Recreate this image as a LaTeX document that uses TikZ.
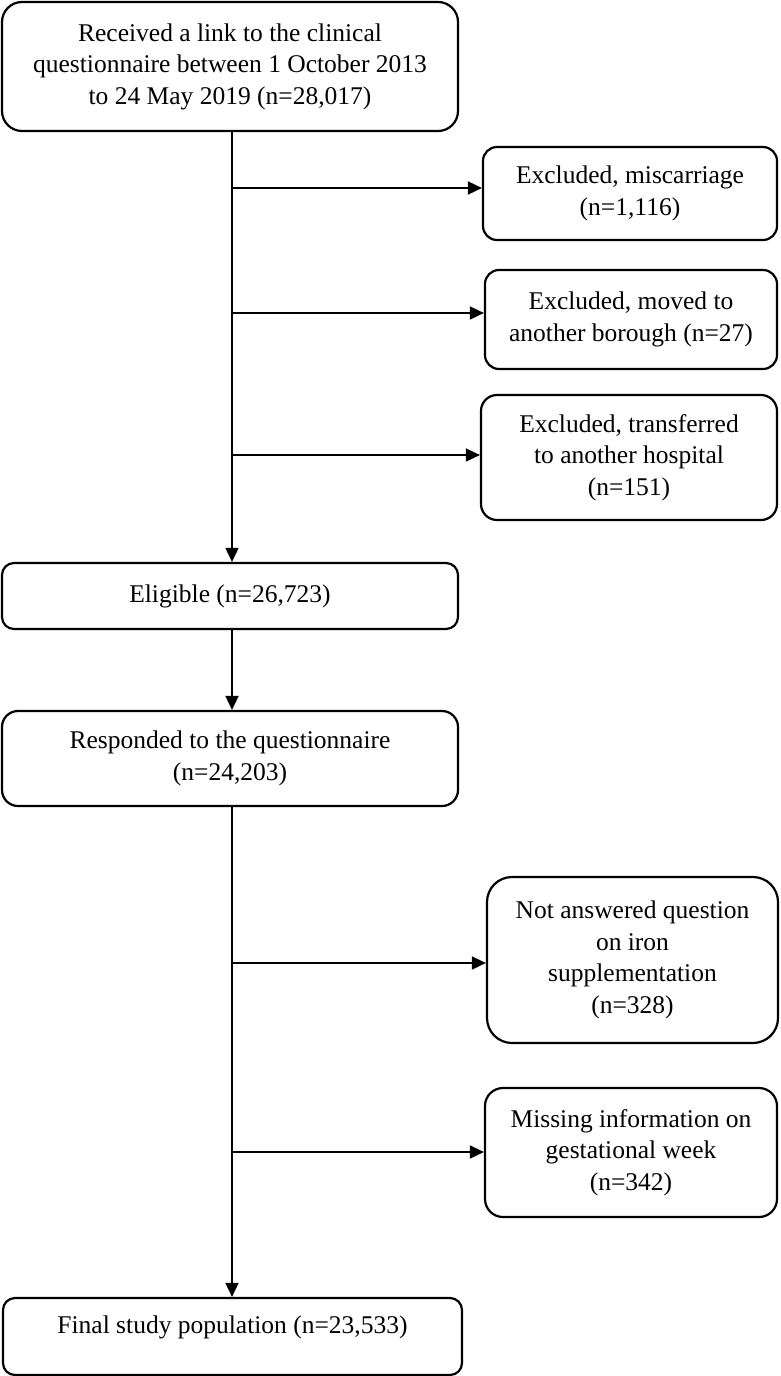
\documentclass[tikz,border=0pt]{standalone}
\usepackage{fontspec}
\setmainfont{Liberation Serif}
\usetikzlibrary{arrows.meta}
\begin{document}
\begin{tikzpicture}[x=1pt,y=-1pt,
  box/.style={draw=black, line width=2.2pt, fill=white, rounded corners=#1, align=center,
    inner sep=0pt, font=\fontsize{25.5}{31.5}\selectfont},
  box/.default=14pt,
  conn/.style={line width=1.7pt, draw=black},
  arr/.style={conn, -{Triangle[length=14pt,width=13pt]}}
]
\useasboundingbox (0,0) rectangle (780,1376);
% main column
\node[box=20pt, minimum width=456pt, minimum height=129pt] (top) at (230,66.5)
  {Received a link to the clinical\\questionnaire between 1 October 2013\\to 24 May 2019 (n=28,017)};
\node[box=12pt, minimum width=456pt, minimum height=66pt] (eli) at (230,596) {Eligible (n=26,723)};
\node[box=16pt, minimum width=456pt, minimum height=95pt] (res) at (230,758.5)
  {Responded to the questionnaire\\(n=24,203)};
\node[box=12pt, minimum width=459pt, minimum height=77pt, text depth=23pt] (fin) at (232.5,1336.5)
  {Final study population (n=23,533)};
% side boxes
\node[box, minimum width=294pt, minimum height=93pt] (mis) at (630,193.5)
  {Excluded, miscarriage\\(n=1,116)};
\node[box, minimum width=292pt, minimum height=99pt] (mov) at (631,319.5)
  {Excluded, moved to\\another borough (n=27)};
\node[box=16pt, minimum width=296pt, minimum height=125pt] (tra) at (629,457.5)
  {Excluded, transferred\\to another hospital\\(n=151)};
\node[box=25pt, minimum width=291pt, minimum height=166pt] (nan) at (632.5,960)
  {Not answered question\\on iron\\supplementation\\(n=328)};
\node[box=18pt, minimum width=292pt, minimum height=129pt] (mgw) at (631,1152.5)
  {Missing information on\\gestational week\\(n=342)};
% branch points on the trunk
\coordinate (b1) at (232,188);
\coordinate (b2) at (232,313);
\coordinate (b3) at (232,455);
\coordinate (b4) at (232,963);
\coordinate (b5) at (232,1152);
% trunks
\draw[arr] (top.south -| b1) -- (eli.north -| b1);
\draw[arr] (eli.south -| b1) -- (res.north -| b1);
\draw[arr] (res.south -| b1) -- (fin.north -| b1);
% branches
\draw[arr] (b1) -- (b1 -| mis.west);
\draw[arr] (b2) -- (b2 -| mov.west);
\draw[arr] (b3) -- (b3 -| tra.west);
\draw[arr] (b4) -- (b4 -| nan.west);
\draw[arr] (b5) -- (b5 -| mgw.west);
\end{tikzpicture}
\end{document}
